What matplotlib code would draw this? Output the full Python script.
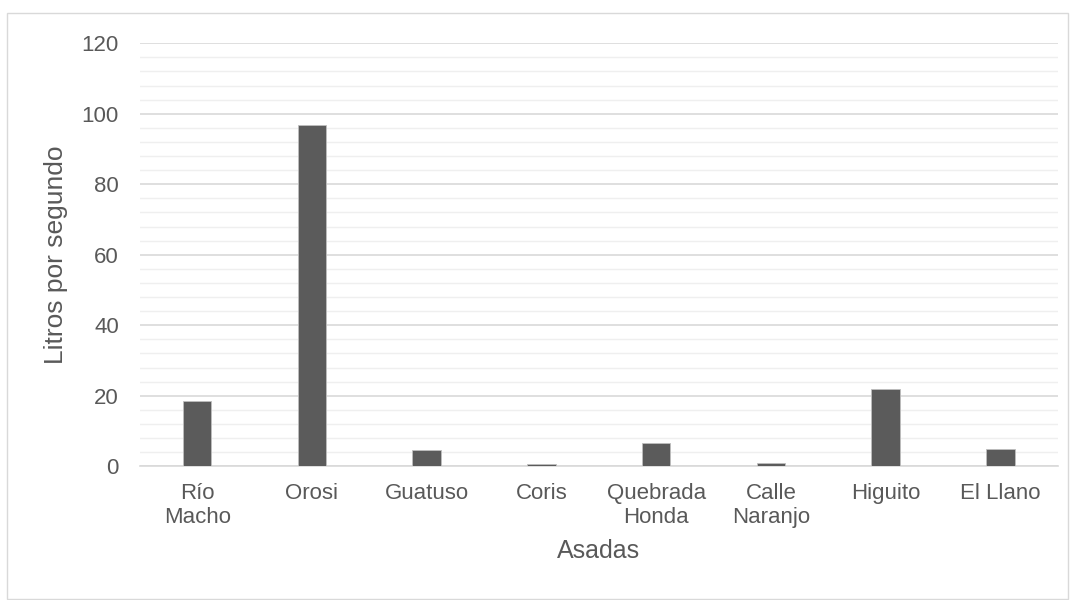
import matplotlib
matplotlib.use('Agg')
import matplotlib.pyplot as plt
import numpy as np

plt.rcParams['font.family'] = ['Liberation Sans', 'DejaVu Sans']

## Data
asadas = ['Río\nMacho', 'Orosi', 'Guatuso', 'Coris', 'Quebrada\nHonda',
          'Calle\nNaranjo', 'Higuito', 'El Llano']
litros = [18.4, 96.7, 4.5, 0.5, 6.5, 1.0, 21.8, 4.9]

txtcol = '#595959'

fig = plt.figure(figsize=(10.75, 6), dpi=100)
ax = fig.add_axes([0.130, 0.223, 0.854, 0.705])

x = np.arange(len(asadas))
ax.bar(x, litros, width=0.25, color='#5b5b5b', edgecolor='#bfbfbf', linewidth=0.6, zorder=3)

ax.set_xlim(-0.5, len(asadas) - 0.5)
ax.set_ylim(0, 120)
ax.set_yticks(np.arange(0, 121, 20))
ax.set_yticks(np.arange(0, 121, 4), minor=True)
ax.grid(axis='y', which='major', color='#d9d9d9', linewidth=1.2, zorder=0)
ax.grid(axis='y', which='minor', color='#efefef', linewidth=1.0, zorder=0)

ax.set_xticks(x)
ax.set_xticklabels(asadas)
ax.tick_params(axis='both', which='both', length=0, labelsize=16, colors=txtcol)
ax.tick_params(axis='y', pad=15)
ax.tick_params(axis='x', pad=12)

for s in ['top', 'right', 'left']:
    ax.spines[s].set_visible(False)
ax.spines['bottom'].set_color('#d9d9d9')
ax.spines['bottom'].set_linewidth(1.2)

ax.set_ylabel('Litros por segundo', fontsize=19, color=txtcol, labelpad=10)
ax.set_xlabel('Asadas', fontsize=18, color=txtcol, labelpad=8)

# outer frame
fig.patches.append(plt.Rectangle((7 / 1075, 0.001), 1061 / 1075, 1 - 13 / 600 - 0.001,
                                 transform=fig.transFigure, fill=False,
                                 edgecolor='#d9d9d9', linewidth=1))

fig.savefig('out.png', dpi=100)
